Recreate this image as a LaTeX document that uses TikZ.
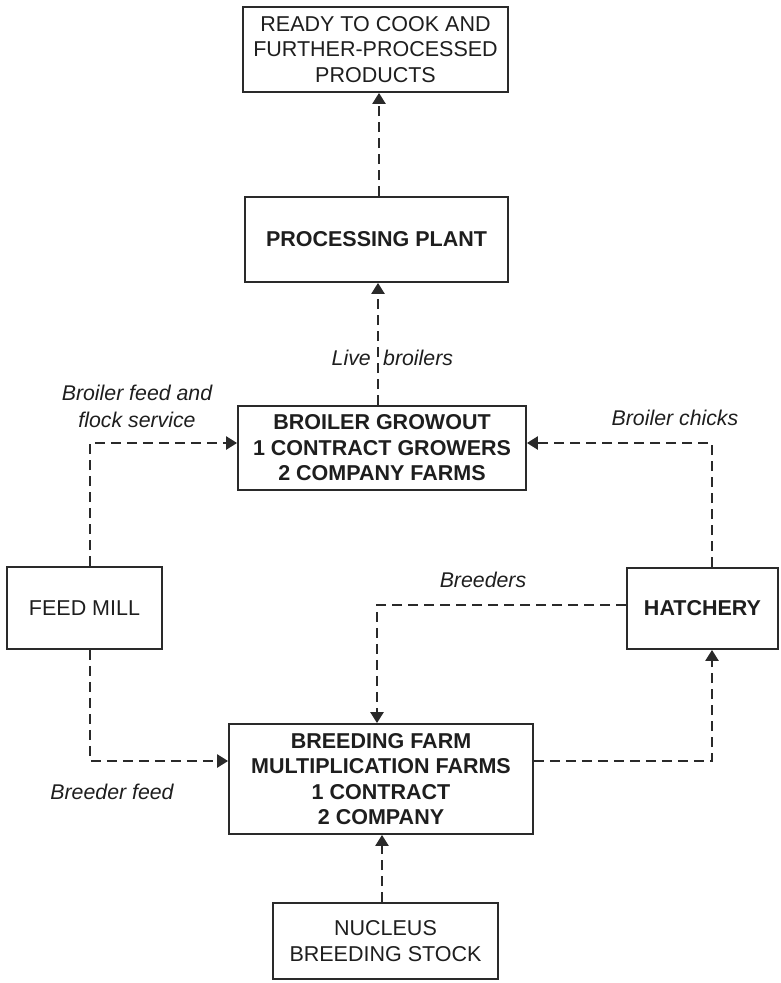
\documentclass[tikz,border=0pt]{standalone}
\usepackage{fontspec}
\setmainfont{Liberation Sans}
\usetikzlibrary{arrows.meta}
\definecolor{ink}{HTML}{1E1E1E}
\definecolor{edge}{HTML}{2A2A2A}
\tikzset{
  box/.style={draw=edge, line width=1.8pt, rectangle, inner sep=0pt, align=center,
    text=ink, font=\fontsize{21.5}{25.5}\selectfont},
  boldbox/.style={box, font=\fontsize{21.5}{25.5}\selectfont\bfseries},
  lbl/.style={text=ink, align=center, inner sep=0pt, font=\fontsize{21.3}{27}\selectfont\itshape},
  flow/.style={draw=edge, line width=2.4pt, dash pattern=on 10pt off 6pt,
    -{Triangle[length=11pt,width=13pt]}},
}
\begin{document}
\begin{tikzpicture}[x=1pt,y=-1pt]
\useasboundingbox (0,0) rectangle (780,983);
% boxes
\node[box, minimum width=265pt, minimum height=85pt] (top) at (375.5,49.5)
  {READY TO COOK AND\\FURTHER-PROCESSED\\PRODUCTS};
\node[boldbox, minimum width=263pt, minimum height=85pt] (proc) at (376.5,239.5)
  {PROCESSING PLANT};
\node[boldbox, minimum width=288pt, minimum height=84pt] (grow) at (382,448)
  {BROILER GROWOUT\\1 CONTRACT GROWERS\\2 COMPANY FARMS};
\node[box, minimum width=155pt, minimum height=82pt] (feed) at (84.5,608)
  {FEED MILL};
\node[boldbox, minimum width=151pt, minimum height=81pt] (hatch) at (702.5,608.5)
  {HATCHERY};
\node[boldbox, minimum width=304pt, minimum height=110pt] (breed) at (381,779)
  {BREEDING FARM\\MULTIPLICATION FARMS\\1 CONTRACT\\2 COMPANY};
\node[box, minimum width=225pt, minimum height=76pt] (nuc) at (385.5,941)
  {NUCLEUS\\BREEDING STOCK};
% helper coordinates
\coordinate (xa) at (379,0);
\coordinate (xb) at (378,0);
\coordinate (xf) at (90,0);
\coordinate (xh) at (712,0);
\coordinate (xbr) at (377,0);
\coordinate (xn) at (382,0);
\coordinate (yg) at (0,443);
\coordinate (yh) at (0,605);
\coordinate (yb) at (0,761);
\coordinate (c1) at (90,443);
\coordinate (c2) at (712,443);
\coordinate (c3) at (377,605);
\coordinate (c4) at (90,761);
\coordinate (c5) at (712,761);
% connectors
\draw[flow] (proc.north -| xa) -- (top.south -| xa);
\draw[flow] (grow.north -| xb) -- (proc.south -| xb);
\draw[flow] (feed.north -| xf) -- (c1) -- (grow.west |- yg);
\draw[flow] (hatch.north -| xh) -- (c2) -- (grow.east |- yg);
\draw[flow] (hatch.west |- yh) -- (c3) -- (breed.north -| xbr);
\draw[flow] (feed.south -| xf) -- (c4) -- (breed.west |- yb);
\draw[flow] (breed.east |- yb) -- (c5) -- (hatch.south -| xh);
\draw[flow] (nuc.north -| xn) -- (breed.south -| xn);
% labels
\node[lbl, anchor=east] (lv1) at (371,358) {Live};
\node[lbl, anchor=west] (lv2) at (383,358) {broilers};
\node[lbl] (lbf) at (137,406) {Broiler feed and\\flock service};
\node[lbl] (lbc) at (675,418) {Broiler chicks};
\node[lbl] (lbr) at (483,580) {Breeders};
\node[lbl] (lbd) at (112,792) {Breeder feed};
\end{tikzpicture}
\end{document}
